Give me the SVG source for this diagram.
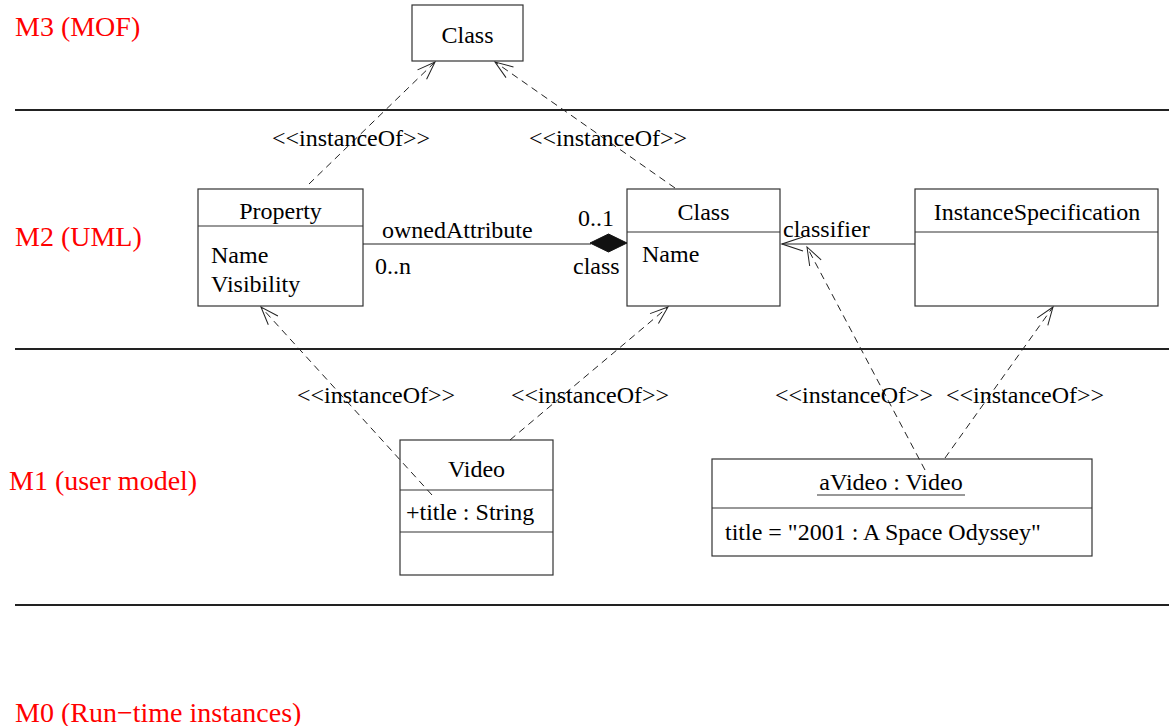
<svg xmlns="http://www.w3.org/2000/svg" width="1169" height="726" viewBox="0 0 1169 726">
  <style>
    .box { fill: #ffffff; stroke: #333333; stroke-width: 1.2; }
    .div { stroke: #333333; stroke-width: 1.2; }
    .t { font-family: "Liberation Serif", "Times New Roman", serif; font-size: 24px; fill: #000000; }
    .c { text-anchor: middle; }
    .level { font-family: "Liberation Serif", "Times New Roman", serif; font-size: 28px; fill: #ff0000; }
    .sep { stroke: #222222; stroke-width: 2; }
    .dep { stroke: #222222; stroke-width: 1; fill: none; stroke-dasharray: 7 5; marker-end: url(#open); }
    .assoc { stroke: #222222; stroke-width: 1.2; fill: none; }
  </style>
  <defs>
    <marker id="open" markerUnits="userSpaceOnUse" markerWidth="24" markerHeight="24" viewBox="-20 -10 24 20" refX="0" refY="0" orient="auto">
      <path d="M -18 -6.5 L 0 0 L -18 6.5" fill="none" stroke="#222222" stroke-width="1"/>
    </marker>
  </defs>

  <rect width="1169" height="726" fill="#ffffff"/>

  <!-- metalevel labels -->
  <g id="levels">
    <text class="level" x="15" y="36">M3 (MOF)</text>
    <text class="level" x="15" y="246">M2 (UML)</text>
    <text class="level" x="9" y="490">M1 (user model)</text>
    <text class="level" x="15" y="722">M0 (Run−time instances)</text>
  </g>

  <!-- metalevel separators -->
  <g id="separators">
    <line class="sep" x1="15" y1="110" x2="1169" y2="110"/>
    <line class="sep" x1="15" y1="349" x2="1169" y2="349"/>
    <line class="sep" x1="15" y1="605" x2="1169" y2="605"/>
  </g>

  <!-- M3 Class -->
  <g id="mof-class">
    <rect class="box" x="412" y="5" width="111" height="56"/>
    <text class="t c" x="467.5" y="43">Class</text>
  </g>

  <!-- M2 Property -->
  <g id="property">
    <rect class="box" x="198" y="189" width="165" height="117"/>
    <line class="div" x1="198" y1="226" x2="363" y2="226"/>
    <text class="t c" x="280.5" y="219">Property</text>
    <text class="t" x="211" y="263">Name</text>
    <text class="t" x="211" y="292">Visibility</text>
  </g>

  <!-- M2 Class -->
  <g id="uml-class">
    <rect class="box" x="627" y="189" width="153" height="117"/>
    <line class="div" x1="627" y1="232" x2="780" y2="232"/>
    <text class="t c" x="703.5" y="220">Class</text>
    <text class="t" x="642" y="262">Name</text>
  </g>

  <!-- M2 InstanceSpecification -->
  <g id="instance-specification">
    <rect class="box" x="915" y="189" width="243" height="117"/>
    <line class="div" x1="915" y1="232" x2="1158" y2="232"/>
    <text class="t c" x="1037" y="220">InstanceSpecification</text>
  </g>

  <!-- M1 Video class -->
  <g id="video">
    <rect class="box" x="400" y="440" width="153" height="135"/>
    <line class="div" x1="400" y1="490" x2="553" y2="490"/>
    <line class="div" x1="400" y1="532" x2="553" y2="532"/>
    <text class="t c" x="476.5" y="477">Video</text>
    <text class="t" x="406" y="520">+title : String</text>
  </g>

  <!-- M1 aVideo instance -->
  <g id="avideo">
    <rect class="box" x="712" y="459" width="380" height="97"/>
    <line class="div" x1="712" y1="508" x2="1092" y2="508"/>
    <text class="t c" x="891" y="490">aVideo : Video</text>
    <line x1="817" y1="495" x2="965" y2="495" stroke="#333333" stroke-width="1.2"/>
    <text class="t" x="725" y="540">title = "2001 : A Space Odyssey"</text>
  </g>

  <!-- connectors -->
  <g id="connectors">
    <!-- ownedAttribute composition -->
    <line class="assoc" x1="363" y1="244" x2="591" y2="244"/>
    <polygon points="627,243 608.5,234 590,243 608.5,252" fill="#111111" stroke="#111111" stroke-width="1"/>
    <!-- classifier association -->
    <line class="assoc" x1="915" y1="244" x2="782" y2="244"/>
    <path d="M 803 237 L 782 244 L 803 251" fill="none" stroke="#222222" stroke-width="1.2"/>

    <!-- instanceOf dependencies -->
    <line class="dep" x1="309" y1="184" x2="435" y2="62"/>
    <line class="dep" x1="675" y1="188" x2="495" y2="62"/>
    <line class="dep" x1="432" y1="495" x2="261" y2="307"/>
    <line class="dep" x1="510" y1="440" x2="668" y2="307"/>
    <line class="dep" x1="925" y1="470" x2="807" y2="247"/>
    <line class="dep" x1="945" y1="458" x2="1053" y2="307"/>
  </g>

  <!-- connector labels -->
  <g id="labels">
    <text class="t" x="382" y="238">ownedAttribute</text>
    <text class="t" x="375" y="274">0..n</text>
    <text class="t" x="578" y="226">0..1</text>
    <text class="t" x="573" y="274">class</text>
    <text class="t" x="783" y="237">classifier</text>
    <text class="t" x="272" y="146">&lt;&lt;instanceOf&gt;&gt;</text>
    <text class="t" x="529" y="146">&lt;&lt;instanceOf&gt;&gt;</text>
    <text class="t" x="297" y="403">&lt;&lt;instanceOf&gt;&gt;</text>
    <text class="t" x="511" y="403">&lt;&lt;instanceOf&gt;&gt;</text>
    <text class="t" x="775" y="403">&lt;&lt;instanceOf&gt;&gt;</text>
    <text class="t" x="946" y="403">&lt;&lt;instanceOf&gt;&gt;</text>
  </g>
</svg>
